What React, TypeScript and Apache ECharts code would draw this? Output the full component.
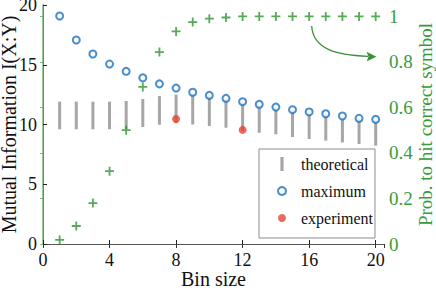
import React, { useEffect, useRef } from "react";
import * as echarts from "echarts";

const binSizes = [1, 2, 3, 4, 5, 6, 7, 8, 9, 10, 11, 12, 13, 14, 15, 16, 17, 18, 19, 20];
const maximumMI = [19.08, 17.07, 15.9, 15.06, 14.45, 13.9, 13.4, 13.05, 12.7, 12.44, 12.19, 11.91, 11.69, 11.46, 11.24, 11.05, 10.9, 10.71, 10.52, 10.43];
const theoreticalLow = [9.6, 9.6, 9.6, 9.6, 9.6, 9.79, 9.98, 10.1, 10.0, 9.87, 9.73, 9.45, 9.31, 9.18, 8.95, 8.79, 8.65, 8.5, 8.37, 8.23];
const theoreticalHigh = [11.91, 11.91, 11.91, 11.91, 11.97, 12.13, 12.38, 12.5, 12.6, 12.4, 12.15, 11.88, 11.66, 11.43, 11.21, 11.02, 10.87, 10.68, 10.5, 10.4];
const experimentBins = [8, 12];
const experimentMI = [10.46, 9.55];
const probCorrect = [0.018, 0.079, 0.18, 0.32, 0.5, 0.69, 0.843, 0.934, 0.975, 0.99, 0.995, 1, 1, 1, 1, 1, 1, 1, 1, 1];

const FONT = "Liberation Serif";
const GREEN = "#2e9431";
const GREEN_TEXT = "#3a9a3a";
const GREEN_AXIS = "#76b876";
const BLUE = "#1a70c0";
const RED = "#e8432e";
const GRAY = "#a6a6a6";
const PLUS = "path://M4,0h2v4h4v2h-4v4h-2v-4h-4v-2h4z";
const BAR_ICON = "path://M0,0h3v13h-3z";

const fmt1 = (v: number) => String(Math.round(v * 10) / 10);

export default function App() {
  const ref = useRef<HTMLDivElement>(null);
  useEffect(() => {
    if (!ref.current) return;
    const chart = echarts.init(ref.current, undefined, { renderer: "svg" });
    const option: any = {
      animation: false,
      backgroundColor: "#fff",
      textStyle: { fontFamily: FONT },
      grid: { left: 43, right: 52, top: 5, bottom: 46, containLabel: false, outerBoundsMode: "none" },
      legend: {
        orient: "vertical",
        left: 259,
        top: 149,
        padding: [7, 2, 12, 18],
        itemWidth: 8,
        itemHeight: 14,
        itemGap: 11,
        borderColor: "#8c8c8c",
        borderWidth: 1,
        backgroundColor: "#fff",
        textStyle: { fontFamily: FONT, fontSize: 16, color: "#111", padding: [0, 0, 0, 10] },
        data: [
          { name: "theoretical", icon: BAR_ICON },
          { name: "maximum", icon: "emptyCircle" },
          { name: "experiment", icon: "circle" },
        ],
      },
      xAxis: [
        {
          type: "value",
          min: 0,
          max: 20.5,
          interval: 4,
          name: "Bin size",
          nameLocation: "middle",
          nameGap: 25,
          nameMoveOverlap: false,
          nameTextStyle: { fontFamily: FONT, fontSize: 20, color: "#111" },
          axisLine: { lineStyle: { color: "#222", width: 1 } },
          axisTick: { inside: true, length: 4, lineStyle: { color: "#222" } },
          axisLabel: { fontFamily: FONT, fontSize: 18, color: "#111", margin: 7, showMaxLabel: false },
          splitLine: { show: false },
        },
        {
          type: "value",
          position: "top",
          min: 0,
          max: 20.5,
          interval: 4,
          axisLine: { show: true, lineStyle: { color: "#555", width: 1 } },
          axisTick: { inside: true, length: 4, lineStyle: { color: "#333" } },
          axisLabel: { show: false },
          splitLine: { show: false },
        },
      ],
      yAxis: [
        {
          type: "value",
          min: 0,
          max: 20,
          interval: 5,
          name: "Mutual Information I(X:Y)",
          nameLocation: "middle",
          nameGap: 24,
          nameMoveOverlap: false,
          nameTextStyle: { fontFamily: FONT, fontSize: 20, color: "#111" },
          axisLine: { show: true, lineStyle: { color: "#222", width: 1 } },
          axisTick: { show: true, inside: true, length: 4, lineStyle: { color: "#222" } },
          axisLabel: { fontFamily: FONT, fontSize: 18, color: "#111", margin: 6 },
          splitLine: { show: false },
        },
        {
          type: "value",
          position: "right",
          min: 0,
          max: 1.05,
          interval: 0.2,
          name: "Prob. to hit correct symbol",
          nameLocation: "middle",
          nameGap: 32,
          nameMoveOverlap: false,
          nameTextStyle: { fontFamily: FONT, fontSize: 19, color: GREEN_TEXT },
          axisLine: { show: true, lineStyle: { color: GREEN_AXIS, width: 1.5 } },
          axisTick: { show: true, inside: true, length: 3, lineStyle: { color: GREEN_AXIS } },
          axisLabel: { fontFamily: FONT, fontSize: 19, color: GREEN_TEXT, margin: 5, showMaxLabel: false, formatter: fmt1 },
          splitLine: { show: false },
        },
      ],
      series: [
        {
          name: "theoretical",
          type: "custom",
          xAxisIndex: 0,
          yAxisIndex: 0,
          itemStyle: { color: GRAY },
          encode: { x: 0, y: [1, 2] },
          data: binSizes.map((b, i) => [b, theoreticalLow[i], theoreticalHigh[i]]),
          renderItem: (params: any, api: any) => {
            const x = api.value(0);
            const top = api.coord([x, api.value(2)]);
            const bot = api.coord([x, api.value(1)]);
            return {
              type: "rect",
              shape: { x: top[0] - 1.5, y: top[1], width: 3, height: bot[1] - top[1] },
              style: { fill: GRAY },
            };
          },
        },
        {
          name: "maximum",
          type: "scatter",
          xAxisIndex: 0,
          yAxisIndex: 0,
          symbol: "emptyCircle",
          symbolSize: 7,
          itemStyle: { color: BLUE, borderColor: BLUE, borderWidth: 1.8 },
          data: binSizes.map((b, i) => [b, maximumMI[i]]),
        },
        {
          name: "experiment",
          type: "scatter",
          xAxisIndex: 0,
          yAxisIndex: 0,
          symbol: "circle",
          symbolSize: 8,
          itemStyle: { color: RED },
          data: experimentBins.map((b, i) => [b, experimentMI[i]]),
        },
        {
          name: "prob",
          type: "scatter",
          xAxisIndex: 0,
          yAxisIndex: 1,
          symbol: PLUS,
          symbolSize: 9,
          itemStyle: { color: GREEN },
          data: binSizes.map((b, i) => [b, probCorrect[i]]),
        },
      ],
      graphic: [
        {
          type: "bezierCurve",
          shape: { x1: 311.7, y1: 26, cpx1: 313, cpy1: 49, cpx2: 336, cpy2: 55, x2: 368, y2: 56.3 },
          style: { stroke: "#3a8f3a", lineWidth: 1.3, fill: "none" },
          z: 10,
        },
        {
          type: "polygon",
          shape: { points: [[376.5, 56.8], [366.5, 51.8], [368.5, 56.5], [366.8, 61.3]] },
          style: { fill: "#3a8f3a" },
          z: 10,
        },
      ],
    };
    chart.setOption(option);
    return () => chart.dispose();
  }, []);
  return <div ref={ref} style={{ position: "fixed", left: 0, top: 0, width: 436, height: 290 }} />;
}
